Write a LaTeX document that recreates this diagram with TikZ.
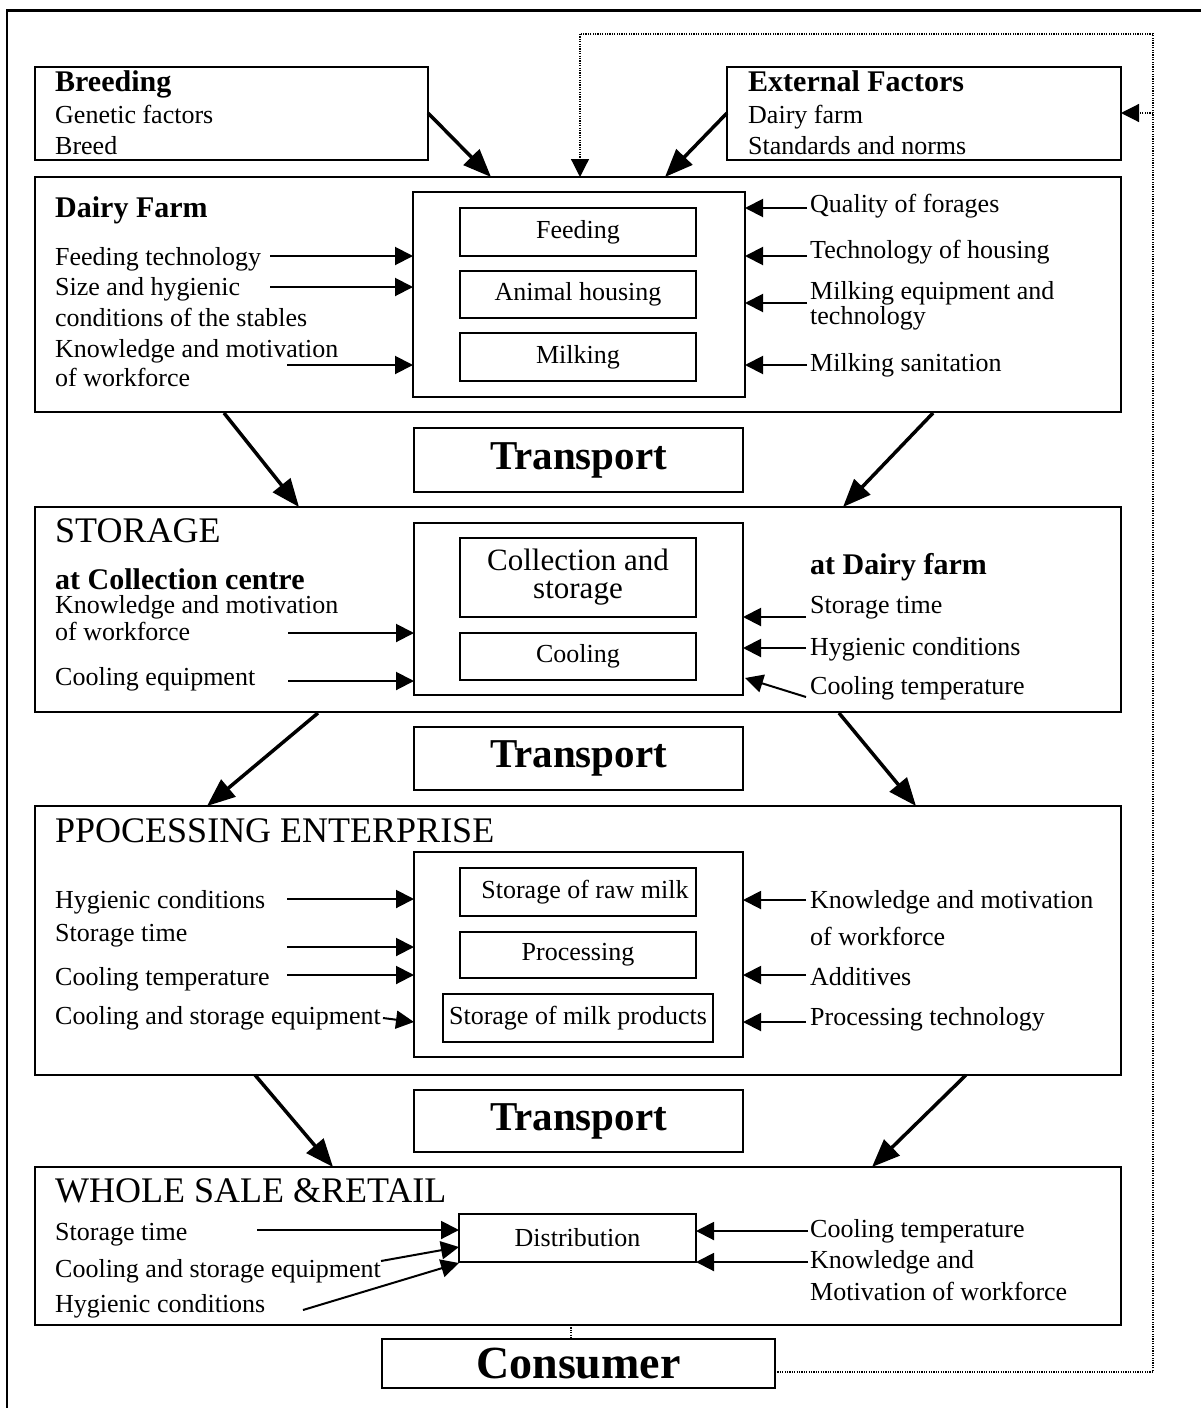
\documentclass[tikz,border=0pt]{standalone}
\usepackage{fontspec}
\setmainfont{Liberation Serif}
\usetikzlibrary{arrows.meta,calc}
\begin{document}
\begin{tikzpicture}[x=1pt,y=-1pt,
  box/.style={draw,line width=1.6pt,inner sep=0pt,outer sep=0pt,anchor=north west},
  sub/.style={draw,line width=1.4pt,inner sep=0pt,outer sep=0pt,anchor=north west,align=center,font=\fontsize{26}{28}\selectfont},
  lbl/.style={anchor=base west,inner sep=0pt,font=\fontsize{26}{31}\selectfont},
  hd/.style={anchor=base west,inner sep=0pt,font=\fontsize{30}{34}\selectfont\bfseries},
  sec/.style={anchor=base west,inner sep=0pt,font=\fontsize{36}{40}\selectfont},
  trn/.style={box,font=\fontsize{41}{44}\selectfont\bfseries},
  arr/.style={line width=2pt,-{Triangle[length=18pt,width=18pt]}},
  big/.style={line width=3.5pt,-{Triangle[length=28pt,width=22pt]}},
  dot/.style={line width=1.2pt,dash pattern=on 1.2pt off 1.2pt},
  dotarr/.style={dot,-{Triangle[length=18pt,width=18pt]}},
]
\useasboundingbox (0,0) rectangle (1201,1408);
% outer frame
\draw[line width=2pt] (7,1408) -- (7,10);
\draw[line width=3pt] (6,10) -- (1201,10);

% ---------- top boxes ----------
\node[box,minimum width=393pt,minimum height=93pt] (breed) at (35,67) {};
\node[hd] (breedh) at (55,91) {Breeding};
\node[lbl] (breed1) at (55,123) {Genetic factors};
\node[lbl] (breed2) at (55,154) {Breed};

\node[box,minimum width=394pt,minimum height=93pt] (ext) at (727,67) {};
\node[hd] (exth) at (748,91) {External Factors};
\node[lbl] (ext1) at (748,123) {Dairy farm};
\node[lbl] (ext2) at (748,154) {Standards and norms};

% ---------- dairy farm ----------
\node[box,minimum width=1086pt,minimum height=235pt] (dairy) at (35,177) {};
\node[box,minimum width=332pt,minimum height=205pt] (dfin) at (413,192) {};
\node[sub,minimum width=236pt,minimum height=48pt] (feed) at (460,208) {Feeding};
\node[sub,minimum width=236pt,minimum height=47pt] (house) at (460,271) {Animal housing};
\node[sub,minimum width=236pt,minimum height=48pt] (milk) at (460,333) {Milking};
\node[hd] (dairyh) at (55,217) {Dairy Farm};
\node[lbl] (df1) at (55,265) {Feeding technology};
\node[lbl] (df2) at (55,295) {Size and hygienic};
\node[lbl] (df3) at (55,326) {conditions of the stables};
\node[lbl] (df4) at (55,357) {Knowledge and motivation};
\node[lbl] (df5) at (55,386) {of workforce};
\node[lbl] (dr1) at (810,212) {Quality of forages};
\node[lbl] (dr2) at (810,258) {Technology of housing};
\node[lbl] (dr3) at (810,299) {Milking equipment and};
\node[lbl] (dr4) at (810,324) {technology};
\node[lbl] (dr5) at (810,371) {Milking sanitation};
\coordinate (dfa1) at (270,256);
\coordinate (dfa2) at (270,287);
\coordinate (dfa3) at (287,365);
\draw[arr] (dfa1) -- (dfa1 -| dfin.west);
\draw[arr] (dfa2) -- (dfa2 -| dfin.west);
\draw[arr] (dfa3) -- (dfa3 -| dfin.west);
\coordinate (dra1) at (807,208);
\coordinate (dra2) at (807,256);
\coordinate (dra3) at (807,303);
\coordinate (dra4) at (807,365);
\draw[arr] (dra1) -- (dra1 -| dfin.east);
\draw[arr] (dra2) -- (dra2 -| dfin.east);
\draw[arr] (dra3) -- (dra3 -| dfin.east);
\draw[arr] (dra4) -- (dra4 -| dfin.east);

% arrows into dairy farm
\coordinate (bA) at (428,113);
\coordinate (bB) at (491,177);
\coordinate (eA) at (727,113);
\coordinate (eB) at (665,177);
\draw[big] (bA) -- (bB);
\draw[big] (eA) -- (eB);

% ---------- transport 1 ----------
\node[trn,minimum width=329pt,minimum height=64pt] (tr1) at (414,428) {Transport};
\coordinate (t1a) at (224,413);
\coordinate (t1b) at (299,507);
\coordinate (t1c) at (933,413);
\coordinate (t1d) at (843,507);
\draw[big] (t1a) -- (t1b);
\draw[big] (t1c) -- (t1d);

% ---------- storage ----------
\node[box,minimum width=1086pt,minimum height=205pt] (stor) at (35,507) {};
\node[box,minimum width=329pt,minimum height=172pt] (stin) at (414,523) {};
\node[sub,minimum width=236pt,minimum height=79pt,font=\fontsize{31}{28}\selectfont] (coll) at (460,538) {Collection and\\storage};
\node[sub,minimum width=236pt,minimum height=47pt] (cool) at (460,633) {Cooling};
\node[sec] (storh) at (55,542) {STORAGE};
\node[hd] (sl0) at (55,589) {at Collection centre};
\node[lbl] (sl1) at (55,613) {Knowledge and motivation};
\node[lbl] (sl2) at (55,640) {of workforce};
\node[lbl] (sl3) at (55,685) {Cooling equipment};
\node[hd] (sr0) at (810,574) {at Dairy farm};
\node[lbl] (sr1) at (810,613) {Storage time};
\node[lbl] (sr2) at (810,655) {Hygienic conditions};
\node[lbl] (sr3) at (810,694) {Cooling temperature};
\coordinate (sla1) at (288,633);
\coordinate (sla2) at (288,681);
\draw[arr] (sla1) -- (sla1 -| stin.west);
\draw[arr] (sla2) -- (sla2 -| stin.west);
\coordinate (sra1) at (806,617);
\coordinate (sra2) at (806,648);
\coordinate (sra3) at (806,697);
\coordinate (sra3e) at (745,678);
\draw[arr] (sra1) -- (sra1 -| stin.east);
\draw[arr] (sra2) -- (sra2 -| stin.east);
\draw[arr] (sra3) -- (sra3e);

% ---------- transport 2 ----------
\node[trn,minimum width=329pt,minimum height=63pt] (tr2) at (414,727) {Transport};
\coordinate (t2a) at (318,713);
\coordinate (t2b) at (207,806);
\coordinate (t2c) at (839,713);
\coordinate (t2d) at (916,806);
\draw[big] (t2a) -- (t2b);
\draw[big] (t2c) -- (t2d);

% ---------- processing ----------
\node[box,minimum width=1086pt,minimum height=269pt] (proc) at (35,806) {};
\node[box,minimum width=329pt,minimum height=205pt] (prin) at (414,852) {};
\node[sub,minimum width=236pt,minimum height=48pt] (raw) at (460,868) {\hspace*{14pt}Storage of raw milk};
\node[sub,minimum width=236pt,minimum height=46pt] (prc) at (460,932) {Processing};
\node[sub,minimum width=270pt,minimum height=48pt] (prod) at (443,994) {Storage of milk products};
\node[sec] (proch) at (55,842) {PPOCESSING ENTERPRISE};
\node[lbl] (pl1) at (55,908) {Hygienic conditions};
\node[lbl] (pl2) at (55,941) {Storage time};
\node[lbl] (pl3) at (55,985) {Cooling temperature};
\node[lbl] (pl4) at (55,1024) {Cooling and storage equipment};
\node[lbl] (pr1) at (810,908) {Knowledge and motivation};
\node[lbl] (pr2) at (810,945) {of workforce};
\node[lbl] (pr3) at (810,985) {Additives};
\node[lbl] (pr4) at (810,1025) {Processing technology};
\coordinate (pla1) at (287,899);
\coordinate (pla2) at (287,947);
\coordinate (pla3) at (287,975);
\coordinate (pla4) at (383,1018);
\coordinate (pla4e) at (414,1022);
\draw[arr] (pla1) -- (pla1 -| prin.west);
\draw[arr] (pla2) -- (pla2 -| prin.west);
\draw[arr] (pla3) -- (pla3 -| prin.west);
\draw[arr] (pla4) -- (pla4e);
\coordinate (pra1) at (806,900);
\coordinate (pra2) at (806,975);
\coordinate (pra3) at (806,1022);
\draw[arr] (pra1) -- (pra1 -| prin.east);
\draw[arr] (pra2) -- (pra2 -| prin.east);
\draw[arr] (pra3) -- (pra3 -| prin.east);

% ---------- transport 3 ----------
\node[trn,minimum width=329pt,minimum height=62pt] (tr3) at (414,1090) {Transport};
\coordinate (t3a) at (255,1075);
\coordinate (t3b) at (333,1167);
\coordinate (t3c) at (966,1075);
\coordinate (t3d) at (872,1167);
\draw[big] (t3a) -- (t3b);
\draw[big] (t3c) -- (t3d);

% ---------- whole sale ----------
\node[box,minimum width=1086pt,minimum height=158pt] (whole) at (35,1167) {};
\node[sub,minimum width=237pt,minimum height=48pt] (dist) at (459,1214) {Distribution};
\node[sec] (wholeh) at (55,1202) {WHOLE SALE \&RETAIL};
\node[lbl] (wl1) at (55,1240) {Storage time};
\node[lbl] (wl2) at (55,1277) {Cooling and storage equipment};
\node[lbl] (wl3) at (55,1312) {Hygienic conditions};
\node[lbl] (wr1) at (810,1237) {Cooling temperature};
\node[lbl] (wr2) at (810,1268) {Knowledge and};
\node[lbl] (wr3) at (810,1300) {Motivation of workforce};
\coordinate (wla1) at (257,1230);
\coordinate (wla2) at (381,1261);
\coordinate (wla2e) at (459,1247);
\coordinate (wla3) at (303,1310);
\coordinate (wla3e) at (459,1263);
\draw[arr] (wla1) -- (wla1 -| dist.west);
\draw[arr] (wla2) -- (wla2e);
\draw[arr] (wla3) -- (wla3e);
\coordinate (wra1) at (808,1231);
\coordinate (wra2) at (808,1262);
\draw[arr] (wra1) -- (wra1 -| dist.east);
\draw[arr] (wra2) -- (wra2 -| dist.east);

% ---------- consumer ----------
\node[box,minimum width=393pt,minimum height=49pt,font=\fontsize{46}{48}\selectfont\bfseries] (cons) at (382,1339) {Consumer};
\coordinate (wc) at (571,1325);
\draw[dot] (wc) -- (wc |- cons.north);

% feedback dotted loop
\coordinate (fb0) at (775,1372);
\coordinate (fb1) at (1153,1372);
\coordinate (fb2) at (1153,34);
\coordinate (fb3) at (580,34);
\coordinate (fb4) at (580,177);
\coordinate (fb5) at (1153,113);
\draw[dot] (fb0) -- (fb1) -- (fb2) -- (fb3);
\draw[dotarr] (fb3) -- (fb4);
\draw[dotarr] (fb5) -- (fb5 -| ext.east);
\end{tikzpicture}
\end{document}
